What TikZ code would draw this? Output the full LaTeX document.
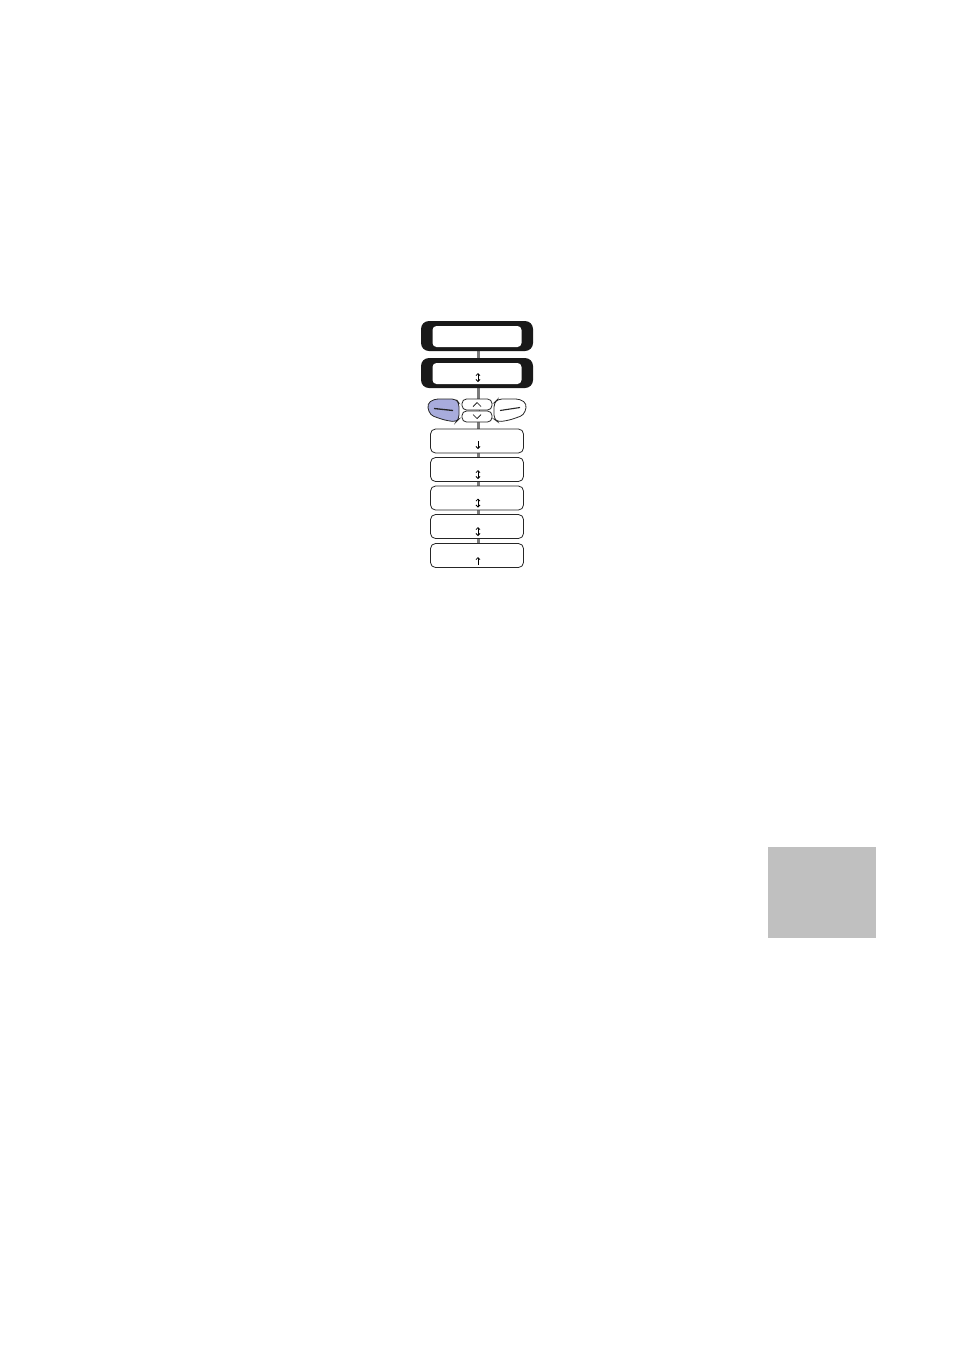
\documentclass[tikz,border=0pt]{standalone}
\usetikzlibrary{arrows.meta}
\definecolor{btnblue}{HTML}{A8ACDC}
\definecolor{conngray}{HTML}{7A7A7A}
\definecolor{tabgray}{HTML}{C0C0C0}
\tikzset{
  thickouter/.style={fill=black!90, rounded corners=8pt, minimum width=112pt, minimum height=30pt, inner sep=0pt},
  thickinner/.style={fill=white, rounded corners=4pt, minimum width=89pt, minimum height=21pt, inner sep=0pt},
  menubox/.style={draw=black!85, line width=0.8pt, rounded corners=5pt, minimum width=93pt, minimum height=24pt, inner sep=0pt, fill=white},
  pill/.style={draw=black!85, line width=0.8pt, rounded corners=4.5pt, minimum width=30pt, minimum height=11pt, inner sep=0pt, fill=white},
  conn/.style={draw=conngray, line width=3pt},
  dblarr/.style={line width=0.8pt, {Straight Barb[length=2pt,width=4pt]}-{Straight Barb[length=2pt,width=4pt]}},
  sglarr/.style={line width=0.8pt, -{Straight Barb[length=2pt,width=4pt]}},
  btn/.style={draw=black!85, line width=0.8pt, rounded corners=4pt},
}
\begin{document}
\begin{tikzpicture}[x=1pt,y=-1pt]
\useasboundingbox (0,0) rectangle (954,1350);
% connectors (behind)
\coordinate (ctop) at (478,351);
\coordinate (cbot) at (478,560);
\draw[conn] (ctop) -- (cbot);
% thick boxes
\node[thickouter] (t1) at (477,336) {};
\node[thickinner] (t1i) at (477,336.5) {};
\node[thickouter] (t2) at (477,373) {};
\node[thickinner] (t2i) at (477,373.5) {};
% buttons
\draw[btn, fill=btnblue] (434,399) -- (456,399) -- (459,403) -- (459,419) -- (456,422) -- (444,420) -- (430,415) -- (427,404) -- cycle;
\draw[line width=1.3pt, black!85] (434,408.5) -- (453,410.5);
\draw[btn, fill=white] (520,399) -- (498,399) -- (494,403) -- (494,419) -- (498,422) -- (510,420) -- (524,415) -- (527,404) -- cycle;
\draw[line width=1.1pt, black!85] (500,410.5) -- (520,407.5);
\node[pill] (up) at (477,404.5) {};
\node[pill] (dn) at (477,416.5) {};
\draw[line width=0.7pt] (473,406.5) -- (477,402.5) -- (481,406.5);
\draw[line width=0.7pt] (473,414.5) -- (477,418.5) -- (481,414.5);
\draw[conn] (up.south) -- (dn.north);
% menu boxes
\node[menubox] (m1) at (477,441) {};
\node[menubox] (m2) at (477,469.5) {};
\node[menubox] (m3) at (477,498) {};
\node[menubox] (m4) at (477,526.5) {};
\node[menubox] (m5) at (477,555.5) {};
% arrows in boxes
\draw[dblarr] (478,373) -- (478,382);
\draw[sglarr] (478,441) -- (478,449);
\draw[dblarr] (478,470) -- (478,479);
\draw[dblarr] (478,498.5) -- (478,507.5);
\draw[dblarr] (478,527) -- (478,536);
\draw[sglarr] (478,565) -- (478,557);
% gray tab
\node[fill=tabgray, minimum width=108pt, minimum height=91pt, inner sep=0pt] (tab) at (822,892.5) {};
\end{tikzpicture}
\end{document}
